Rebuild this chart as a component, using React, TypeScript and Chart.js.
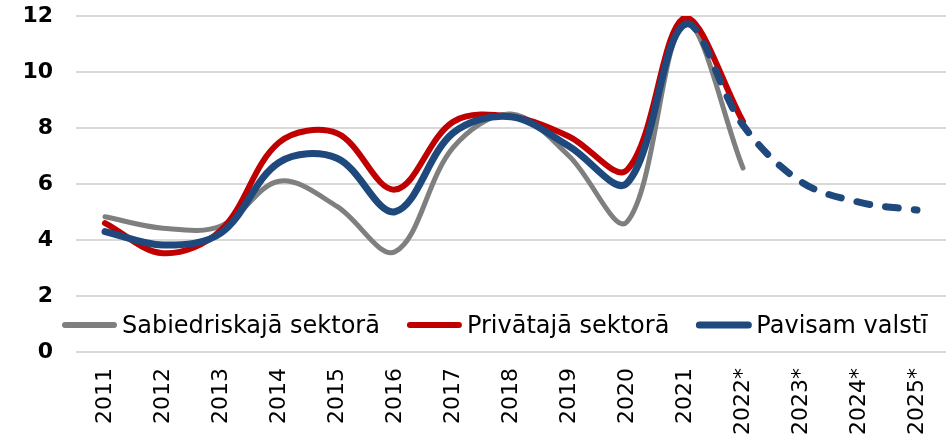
import React, { useEffect, useRef } from "react";
import { Chart, registerables } from "chart.js";

Chart.register(...registerables);

const categories = ["2011", "2012", "2013", "2014", "2015", "2016", "2017", "2018", "2019", "2020", "2021", "2022*", "2023*", "2024*", "2025*"];
const publicSector = [4.83, 4.42, 4.5, 6.1, 5.2, 3.58, 7.3, 8.5, 7.0, 4.65, 11.75, 6.57, null, null, null];
const privateSector = [4.6, 3.53, 4.35, 7.48, 7.81, 5.8, 8.22, 8.4, 7.7, 6.5, 11.95, 8.23, null, null, null];
const wholeCountry = [4.3, 3.82, 4.25, 6.77, 6.92, 5.01, 7.82, 8.4, 7.35, 6.03, 11.7, 8.1, 6.08, 5.35, 5.07];
const seriesNames = ["Sabiedriskajā sektorā", "Privātajā sektorā", "Pavisam valstī"];
const yTicks = [0, 2, 4, 6, 8, 10, 12];
const forecastStartIndex = 10;

const GRAY = "#7f7f7f";
const RED = "#c00000";
const BLUE = "#1f497d";
const FONT = "'DejaVu Sans', Verdana, sans-serif";

const legendPlugin = {
  id: "insideLegend",
  afterDraw(chart: any) {
    const ctx = chart.ctx;
    const items = [
      { text: seriesNames[0], color: GRAY, width: 6 },
      { text: seriesNames[1], color: RED, width: 6 },
      { text: seriesNames[2], color: BLUE, width: 7 },
    ];
    ctx.save();
    ctx.font = `24px ${FONT}`;
    ctx.textBaseline = "alphabetic";
    ctx.textAlign = "left";
    let x = 62;
    const yLine = 325;
    for (const it of items) {
      ctx.beginPath();
      ctx.strokeStyle = it.color;
      ctx.lineWidth = it.width;
      ctx.lineCap = "round";
      ctx.moveTo(x + 3, yLine);
      ctx.lineTo(x + 52, yLine);
      ctx.stroke();
      ctx.fillStyle = "#000000";
      ctx.fillText(it.text, x + 60, 333);
      x += 60 + ctx.measureText(it.text).width + 27;
    }
    ctx.restore();
  },
};

export default function App() {
  const ref = useRef<HTMLCanvasElement | null>(null);
  useEffect(() => {
    if (!ref.current) return;
    const chart = new Chart(ref.current, {
      type: "line",
      data: {
        labels: categories,
        datasets: [
          {
            label: seriesNames[0],
            data: publicSector,
            borderColor: GRAY,
            borderWidth: 5,
            tension: 0.35,
            pointRadius: 0,
            borderCapStyle: "round",
            borderJoinStyle: "round",
            order: 3,
          },
          {
            label: seriesNames[1],
            data: privateSector,
            borderColor: RED,
            borderWidth: 6,
            tension: 0.35,
            pointRadius: 0,
            borderCapStyle: "round",
            borderJoinStyle: "round",
            order: 2,
          },
          {
            label: seriesNames[2],
            data: wholeCountry,
            borderColor: BLUE,
            borderWidth: 7,
            tension: 0.35,
            pointRadius: 0,
            borderCapStyle: "round",
            borderJoinStyle: "round",
            order: 1,
            segment: {
              borderDash: (c: any) => (c.p0DataIndex >= forecastStartIndex ? [13, 16] : undefined),
            },
          },
        ],
      },
      options: {
        responsive: false,
        animation: false,
        devicePixelRatio: 1,
        layout: { padding: { top: 16, left: 0, right: 2, bottom: 0 } },
        plugins: {
          legend: { display: false },
          tooltip: { enabled: false },
        },
        scales: {
          x: {
            offset: true,
            grid: { display: false, drawTicks: false },
            border: { display: false },
            ticks: {
              autoSkip: false,
              maxRotation: 90,
              minRotation: 90,
              padding: 16,
              color: "#000000",
              font: { family: FONT, size: 22 },
            },
            afterFit: (s: any) => {
              s.height = 93;
              s.paddingLeft = 0;
              s.paddingRight = 0;
            },
          },
          y: {
            min: 0,
            max: 12,
            afterBuildTicks: (s: any) => {
              s.ticks = yTicks.map((v) => ({ value: v }));
            },
            grid: { color: "#d9d9d9", lineWidth: 2, drawTicks: false },
            border: { display: false },
            ticks: {
              padding: 23,
              color: "#000000",
              font: { family: FONT, size: 22, weight: "bold" },
            },
            afterFit: (s: any) => {
              s.width = 76;
              s.paddingTop = 0;
              s.paddingBottom = 0;
            },
          },
        },
      },
      plugins: [legendPlugin],
    });
    return () => chart.destroy();
  }, []);
  return (
    <div style={{ position: "fixed", left: 0, top: 0, width: 948, height: 445, background: "#ffffff" }}>
      <canvas ref={ref} width={948} height={445} style={{ width: 948, height: 445, display: "block" }} />
    </div>
  );
}
